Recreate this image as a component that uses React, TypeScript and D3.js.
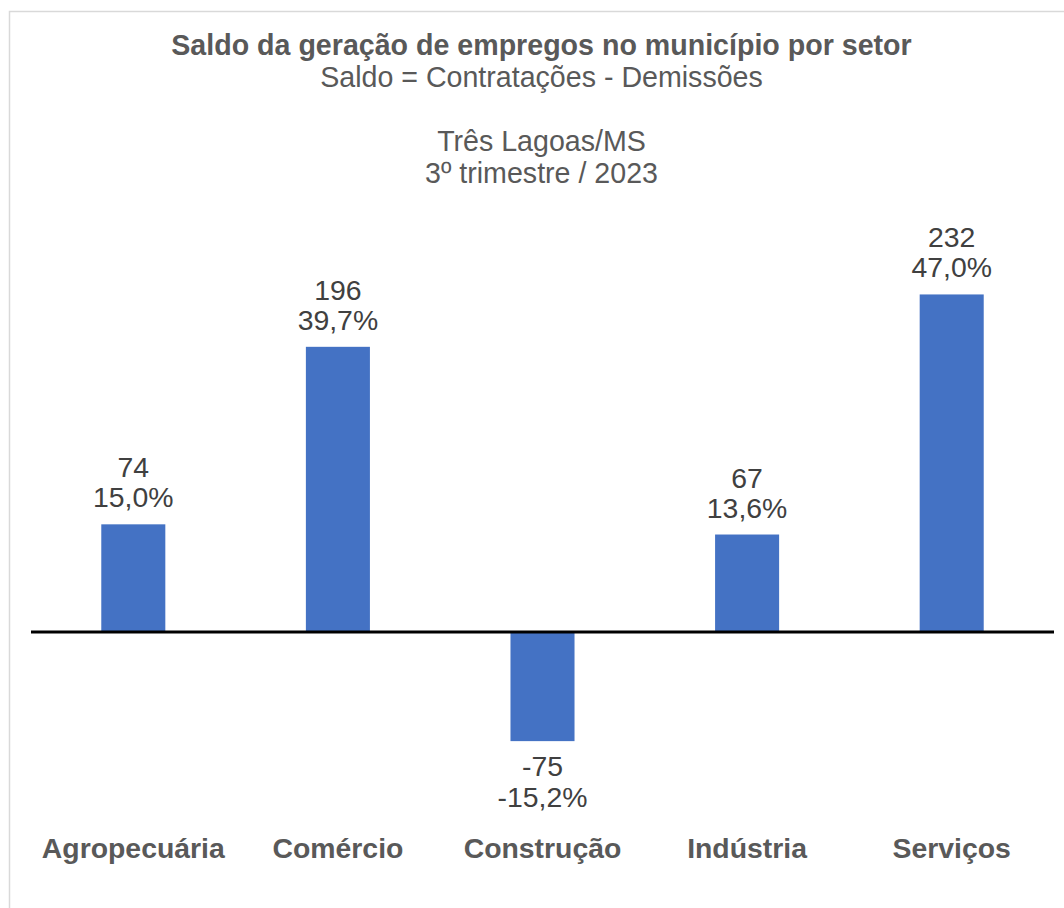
import React from "react";
import * as d3 from "d3";

const categories = ["Agropecuária", "Comércio", "Construção", "Indústria", "Serviços"];
const saldo = [74, 196, -75, 67, 232];
const percent = ["15,0%", "39,7%", "-15,2%", "13,6%", "47,0%"];

const titleLines = ["Saldo da geração de empregos no município por setor", "Saldo = Contratações - Demissões"];
const subtitleLines = ["Três Lagoas/MS", "3º trimestre / 2023"];

const W = 1064;
const H = 908;
const FONT = "'Liberation Sans', Arial, Helvetica, sans-serif";

export default function App() {
  const x = d3.scaleBand<string>().domain(categories).range([31, 1054]).paddingInner(0.687).paddingOuter(0.3435);
  const y = d3.scaleLinear().domain([-100, 300]).range([777.5, 195.5]);
  const y0 = y(0);

  return (
    <svg width={W} height={H} style={{ position: "absolute", left: 0, top: 0, background: "#fff" }} fontFamily={FONT}>
      <rect x={0} y={0} width={W} height={H} fill="#fff" />
      <rect x={9.5} y={11.5} width={W + 20} height={H + 20} fill="#fff" stroke="#d9d9d9" strokeWidth={1.5} />
      <text x={541.5} y={55} textAnchor="middle" fontSize={28.6} fontWeight="bold" fill="#595959">{titleLines[0]}</text>
      <text x={541.5} y={87} textAnchor="middle" fontSize={28.6} fill="#595959">{titleLines[1]}</text>
      <text x={541.5} y={151} textAnchor="middle" fontSize={28.6} fill="#595959">{subtitleLines[0]}</text>
      <text x={541.5} y={183} textAnchor="middle" fontSize={28.6} fill="#595959">{subtitleLines[1]}</text>

      {categories.map((c, i) => {
        const v = saldo[i];
        const bx = x(c)!;
        const bw = x.bandwidth();
        const top = v >= 0 ? y(v) : y0;
        const h = Math.abs(y(v) - y0);
        const cx = bx + bw / 2;
        return (
          <g key={c}>
            <rect x={bx} y={top} width={bw} height={h} fill="#4472C4" />
            {v >= 0 ? (
              <>
                <text x={cx} y={y(v) - 47} textAnchor="middle" fontSize={28.4} fill="#404040">{v}</text>
                <text x={cx} y={y(v) - 17} textAnchor="middle" fontSize={28.4} fill="#404040">{percent[i]}</text>
              </>
            ) : (
              <>
                <text x={cx} y={y(v) + 35} textAnchor="middle" fontSize={28.4} fill="#404040">{v}</text>
                <text x={cx} y={y(v) + 66} textAnchor="middle" fontSize={28.4} fill="#404040">{percent[i]}</text>
              </>
            )}
            <text x={cx} y={858} textAnchor="middle" fontSize={28.4} fontWeight="bold" fill="#595959">{c}</text>
          </g>
        );
      })}
      <line x1={31} x2={1054} y1={y0} y2={y0} stroke="#000" strokeWidth={3} />
    </svg>
  );
}
